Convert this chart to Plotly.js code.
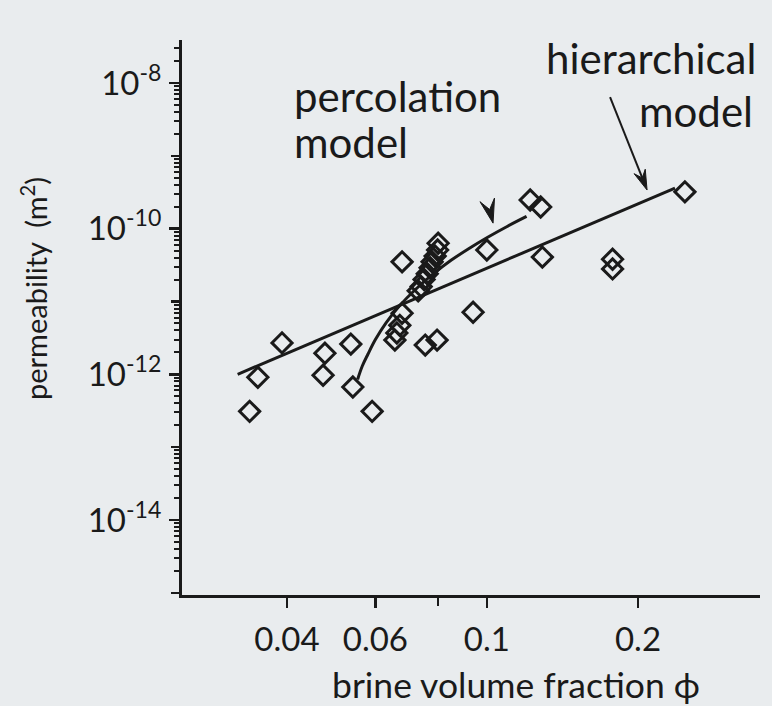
<!DOCTYPE html>
<html>
<head>
<meta charset="utf-8">
<script src="https://cdn.plot.ly/plotly-3.0.1.min.js"></script>
<style>
html,body{margin:0;padding:0;background:#e9ecee;}
#chart{width:772px;height:706px;}
</style>
</head>
<body>
<div id="chart"></div>
<script>
// ---------- data ----------
const phiData = [0.0391, 0.0350, 0.0337, 0.0476, 0.0472, 0.0536, 0.0541, 0.0591,
                 0.0678, 0.0800, 0.0798, 0.0789, 0.0778, 0.0771, 0.0761, 0.0750, 0.0740, 0.0730,
                 0.0678, 0.0671, 0.0662, 0.0656, 0.0754, 0.0796, 0.0939, 0.1000,
                 0.1220, 0.1280, 0.1290, 0.1780, 0.1780, 0.2480];
const permData = [2.7e-12, 9.1e-13, 3.1e-13, 1.95e-12, 9.7e-13, 2.6e-12, 6.7e-13, 3.1e-13,
                  3.5e-11, 6.3e-11, 5.1e-11, 4.2e-11, 3.5e-11, 2.9e-11, 2.4e-11, 2.0e-11, 1.6e-11, 1.4e-11,
                  6.9e-12, 4.7e-12, 3.7e-12, 2.95e-12, 2.52e-12, 2.95e-12, 7.1e-12, 5.1e-11,
                  2.47e-10, 1.98e-10, 4.07e-11, 3.8e-11, 2.8e-11, 3.2e-10];

const percPhi  = [0.0553, 0.0565, 0.0580, 0.0600, 0.0630, 0.0670, 0.0720, 0.0780, 0.0850, 0.0920, 0.1000, 0.1100, 0.1200];
const percPerm = [8.5e-13, 1.3e-12, 1.9e-12, 3.0e-12, 5.1e-12, 8.7e-12, 1.45e-11, 2.35e-11, 3.7e-11, 5.3e-11, 7.5e-11, 1.08e-10, 1.47e-10];

const hierPhi  = [0.0319, 0.2370];
const hierPerm = [1.0e-12, 3.6e-10];

// labelled ticks
const xTickVals = [0.04, 0.06, 0.1, 0.2];
const xTickText = ['0.04', '0.06', '0.1', '0.2'];
const yTickVals = [1e-14, 1e-12, 1e-10, 1e-8];
const yTickText = ['10<sup>-14</sup>', '10<sup>-12</sup>', '10<sup>-10</sup>', '10<sup>-8</sup>'];
// unlabelled major ticks
const xTickPlain = [0.08];
const yTickPlain = [1e-15, 1e-13, 1e-11, 1e-9];

const xTitle = 'brine volume fraction \u03D5';
const yTitle = 'permeability&nbsp;&nbsp;(m<sup>2</sup>)';
const percLabel = ['percolation', 'model'];
const hierLabel = ['hierarchical', 'model'];

// arrow tips (data coordinates)
const hierArrowTip = [0.2085, 3.39e-10];
const percArrowTip = [0.1029, 1.19e-10];

// ---------- layout geometry ----------
const W = 772, H = 706;
const M = {l: 182, r: 12, t: 40, b: 111};
const PW = W - M.l - M.r, PH = H - M.t - M.b;
const xRange = [-1.607, -0.456];
const yRange = [-15.03, -7.41];
const INK = '#1a1a1a';
const BG = '#e9ecee';
const FONT = 'Lato, "Open Sans", sans-serif';

function P(px, py) { return {x: (px - M.l) / PW, y: (M.t + PH - py) / PH}; }
function D(x, y) {
  return [M.l + (Math.log10(x) - xRange[0]) / (xRange[1] - xRange[0]) * PW,
          M.t + PH - (Math.log10(y) - yRange[0]) / (yRange[1] - yRange[0]) * PH];
}
function toPaperPath(pts) {
  return 'M' + pts.map(p => { const q = P(p[0], p[1]); return q.x.toFixed(5) + ',' + q.y.toFixed(5); }).join('L') + 'Z';
}
function head(tip, dir, L, Wd, n) {
  const len = Math.hypot(dir[0], dir[1]);
  const d = [dir[0] / len, dir[1] / len], nn = [-d[1], d[0]];
  const T = tip;
  const B1 = [T[0] - L * d[0] + Wd * nn[0], T[1] - L * d[1] + Wd * nn[1]];
  const B2 = [T[0] - L * d[0] - Wd * nn[0], T[1] - L * d[1] - Wd * nn[1]];
  const N = [T[0] - (L - n) * d[0], T[1] - (L - n) * d[1]];
  return {path: toPaperPath([T, B1, N, B2]), notch: N};
}

const hTip = D(hierArrowTip[0], hierArrowTip[1]);
const hDir = [37, 93];
const hHead = head(hTip, hDir, 20, 6, 7);
const hTail = [hTip[0] - hDir[0], hTip[1] - hDir[1]];
const pTip = D(percArrowTip[0], percArrowTip[1]);
const pHead = head(pTip, [6, 24], 24, 7.5, 10);

const shapes = [
  {type: 'line', xref: 'paper', yref: 'paper',
   x0: P(hTail[0], hTail[1]).x, y0: P(hTail[0], hTail[1]).y,
   x1: P(hHead.notch[0], hHead.notch[1]).x, y1: P(hHead.notch[0], hHead.notch[1]).y,
   line: {color: INK, width: 2}},
  {type: 'path', xref: 'paper', yref: 'paper', path: hHead.path, fillcolor: INK, line: {color: INK, width: 1}},
  {type: 'path', xref: 'paper', yref: 'paper', path: pHead.path, fillcolor: INK, line: {color: INK, width: 1}}
];

function txt(text, px, py, anchor, size, extra) {
  const p = P(px, py);
  return Object.assign({text: text, xref: 'paper', yref: 'paper', x: p.x, y: p.y,
    xanchor: anchor, yanchor: 'middle', showarrow: false,
    font: {family: FONT, size: size, color: INK}}, extra || {});
}
const TS = 42;
const annotations = [
  txt(percLabel[0], 292, 112 - 0.39 * TS, 'left', TS),
  txt(percLabel[1], 292, 158 - 0.39 * TS, 'left', TS),
  txt(hierLabel[0], 758, 74 - 0.39 * TS, 'right', TS),
  txt(hierLabel[1], 755, 127 - 0.39 * TS, 'right', TS),
  txt(xTitle, 516, 684, 'center', 35.5),
  txt(yTitle, 34, 289, 'center', 29, {textangle: -90})
];

const minorVals = [];
for (let e = -16; e <= -7; e++) for (let k = 2; k <= 9; k++) minorVals.push(k * Math.pow(10, e));

const traces = [
  {x: hierPhi, y: hierPerm, type: 'scatter', mode: 'lines', line: {color: INK, width: 3}, hoverinfo: 'skip'},
  {x: percPhi, y: percPerm, type: 'scatter', mode: 'lines', line: {color: INK, width: 3, shape: 'spline'}, hoverinfo: 'skip'},
  {x: phiData, y: permData, type: 'scatter', mode: 'markers',
   marker: {symbol: 'diamond-open', size: 15.5, color: INK, line: {width: 3, color: INK}}},
  // carrier for the overlay axes that hold the unlabelled major ticks
  {x: hierPhi, y: hierPerm, xaxis: 'x2', yaxis: 'y2', type: 'scatter', mode: 'lines',
   line: {color: 'rgba(0,0,0,0)', width: 0}, hoverinfo: 'skip'}
];

const axisBase = {type: 'log', showgrid: false, zeroline: false};
const layout = {
  width: W, height: H,
  margin: {l: M.l, r: M.r, t: M.t, b: M.b, pad: 0},
  paper_bgcolor: BG, plot_bgcolor: BG,
  showlegend: false,
  font: {family: FONT, color: INK},
  xaxis: Object.assign({}, axisBase, {
    range: xRange, showline: true, linecolor: INK, linewidth: 3,
    tickmode: 'array', tickvals: xTickVals, ticktext: xTickText,
    ticks: 'outside', ticklen: 10, tickwidth: 2.5, tickcolor: INK,
    ticklabelstandoff: 3,
    tickfont: {family: FONT, size: 33, color: INK}
  }),
  yaxis: Object.assign({}, axisBase, {
    range: yRange, showline: true, linecolor: INK, linewidth: 3,
    tickmode: 'array', tickvals: yTickVals, ticktext: yTickText,
    ticks: 'outside', ticklen: 10, tickwidth: 2.5, tickcolor: INK,
    ticklabelstandoff: 1,
    tickfont: {family: FONT, size: 33, color: INK},
    minor: {tickmode: 'array', tickvals: minorVals, ticks: 'outside', ticklen: 5, tickwidth: 2, tickcolor: INK, showgrid: false}
  }),
  xaxis2: Object.assign({}, axisBase, {
    range: xRange, overlaying: 'x', anchor: 'y2', side: 'bottom', showline: false,
    tickmode: 'array', tickvals: xTickPlain, showticklabels: false,
    ticks: 'outside', ticklen: 10, tickwidth: 2.5, tickcolor: INK
  }),
  yaxis2: Object.assign({}, axisBase, {
    range: yRange, overlaying: 'y', anchor: 'x2', side: 'left', showline: false,
    tickmode: 'array', tickvals: yTickPlain, showticklabels: false,
    ticks: 'outside', ticklen: 10, tickwidth: 2.5, tickcolor: INK
  }),
  shapes: shapes,
  annotations: annotations
};

Plotly.newPlot('chart', traces, layout, {displayModeBar: false, staticPlot: true});
</script>
</body>
</html>
